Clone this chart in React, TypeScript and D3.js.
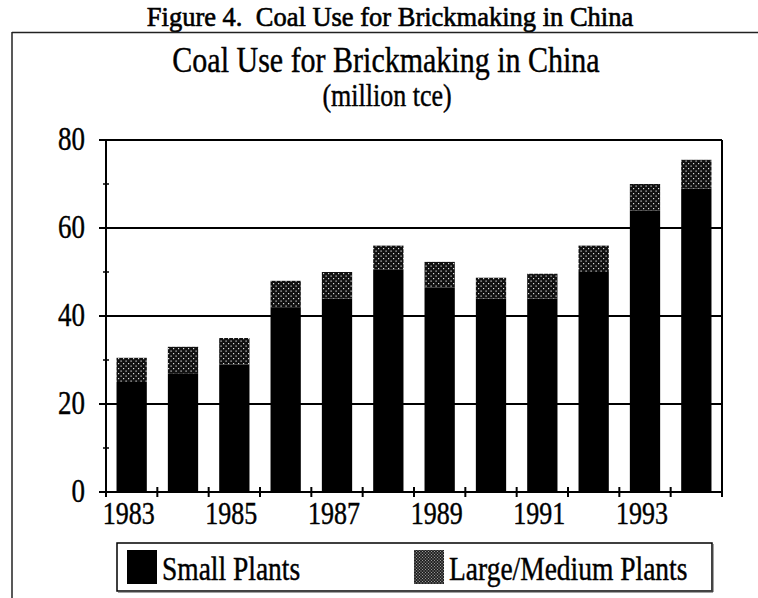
import React from "react";
import * as d3 from "d3";

// Coal use for brickmaking, million tce
const years = ["1983", "1984", "1985", "1986", "1987", "1988", "1989", "1990", "1991", "1992", "1993", "1994"];
const smallPlants = [25, 27, 29, 42, 44, 50.5, 46.5, 44, 44, 50, 64, 69];
const largeMediumPlants = [5.5, 6, 6, 6, 6, 5.5, 5.8, 4.7, 5.6, 6, 6, 6.5];
const yTicks = [0, 20, 40, 60, 80];
const yMinorTicks = [10, 30, 50, 70];
const xTickLabels = ["1983", "1985", "1987", "1989", "1991", "1993"];
const seriesNames = ["Small Plants", "Large/Medium Plants"];

const W = 758;
const H = 598;
const plot = { left: 106, right: 722, top: 140, bottom: 492 };
const FONT = "'Liberation Serif', 'Times New Roman', Times, serif";
const SY = 1.22; // vertical stretch of the type

function Label({ x, y, size, anchor = "middle", weight = "normal", sy = SY, sw = 0.35, children }: any) {
  return (
    <text
      transform={`translate(${x},${y}) scale(1,${sy})`}
      fontFamily={FONT}
      fontSize={size}
      fontWeight={weight}
      textAnchor={anchor}
      fill="#000"
      stroke="#000"
      strokeWidth={sw}
      style={{ whiteSpace: "pre" }}
    >
      {children}
    </text>
  );
}

export default function App() {
  const x = d3
    .scaleBand<string>()
    .domain(years)
    .range([plot.left, plot.right])
    .paddingInner(0.41)
    .paddingOuter(0.205);
  const y = d3.scaleLinear().domain([0, 80]).range([plot.bottom, plot.top]);

  const rows = years.map((yr, i) => ({ year: yr, small: smallPlants[i], large: largeMediumPlants[i] }));
  const stacked = d3.stack<any>().keys(["small", "large"])(rows);

  const step = x.step();
  const boundaries = d3.range(years.length + 1).map((i) => plot.left + i * step);

  return (
    <svg width={W} height={H} style={{ position: "absolute", left: 0, top: 0, background: "#fff" }}>
      <defs>
        <pattern id="stipple" width="5" height="5" patternUnits="userSpaceOnUse">
          <rect width="5" height="5" fill="#111" />
          <rect x="0.5" y="0.5" width="1.2" height="1.2" fill="#ddd" />
          <rect x="3" y="3" width="1.2" height="1.2" fill="#ddd" />
        </pattern>
        <pattern id="stippleFine" width="3" height="3" patternUnits="userSpaceOnUse">
          <rect width="3" height="3" fill="#222" />
          <rect x="0.5" y="0.5" width="1" height="1" fill="#bbb" />
          <rect x="2" y="2" width="1" height="1" fill="#999" />
        </pattern>
      </defs>

      {/* figure caption and page frame */}
      <Label x={390} y={26} size={26.5} sy={1.06} sw={0.6}>
        {"Figure 4.  Coal Use for Brickmaking in China"}
      </Label>
      <line x1={12} x2={W} y1={32.5} y2={32.5} stroke="#222" strokeWidth={1.5} />
      <line x1={12} x2={12} y1={32} y2={H} stroke="#222" strokeWidth={1.5} />

      {/* chart title */}
      <Label x={386} y={72} size={30}>
        Coal Use for Brickmaking in China
      </Label>
      <Label x={387} y={106} size={26}>
        (million tce)
      </Label>

      {/* gridlines and plot frame */}
      {yTicks.slice(1).map((t) => (
        <line key={t} x1={plot.left} x2={plot.right} y1={y(t)} y2={y(t)} stroke="#000" strokeWidth={2} />
      ))}
      <line x1={plot.right} x2={plot.right} y1={plot.top} y2={plot.bottom} stroke="#000" strokeWidth={2} />

      {/* bars */}
      {stacked.map((layer, li) =>
        layer.map((d, i) => (
          <rect
            key={`${li}-${i}`}
            x={x(years[i])}
            width={x.bandwidth()}
            y={y(d[1])}
            height={y(d[0]) - y(d[1])}
            fill={li === 0 ? "#000" : "url(#stipple)"}
          />
        ))
      )}

      {/* y axis */}
      <line x1={plot.left} x2={plot.left} y1={plot.top} y2={plot.bottom} stroke="#000" strokeWidth={2} />
      {yTicks.map((t) => (
        <g key={t}>
          <line x1={plot.left - 7} x2={plot.left} y1={y(t)} y2={y(t)} stroke="#000" strokeWidth={2} />
          <Label x={85} y={y(t) + 10} size={27} anchor="end">
            {String(t)}
          </Label>
        </g>
      ))}
      {yMinorTicks.map((t) => (
        <line key={t} x1={plot.left - 3} x2={plot.left + 3} y1={y(t)} y2={y(t)} stroke="#000" strokeWidth={1.5} />
      ))}

      {/* x axis */}
      <line x1={plot.left} x2={plot.right} y1={plot.bottom} y2={plot.bottom} stroke="#000" strokeWidth={2} />
      {boundaries.map((bx, i) => (
        <line key={i} x1={bx} x2={bx} y1={plot.bottom - 5} y2={plot.bottom + 5} stroke="#000" strokeWidth={2} />
      ))}
      {xTickLabels.map((lab) => (
        <Label key={lab} x={(x(lab) as number) + x.bandwidth() / 2 - 3} y={524} size={26}>
          {lab}
        </Label>
      ))}

      {/* legend */}
      <rect x={117} y={543} width={595} height={48} fill="#fff" stroke="#000" strokeWidth={1.5} />
      <line x1={118} x2={713} y1={591.5} y2={591.5} stroke="#444" strokeWidth={2} />
      <line x1={712.5} x2={712.5} y1={544} y2={592} stroke="#444" strokeWidth={2} />
      <rect x={127} y={550} width={30} height={34} fill="#000" />
      <Label x={162} y={580} size={27.5} anchor="start">
        {seriesNames[0]}
      </Label>
      <rect x={414} y={550} width={30} height={34} fill="url(#stippleFine)" />
      <Label x={449} y={580} size={27.5} anchor="start">
        {seriesNames[1]}
      </Label>
    </svg>
  );
}
